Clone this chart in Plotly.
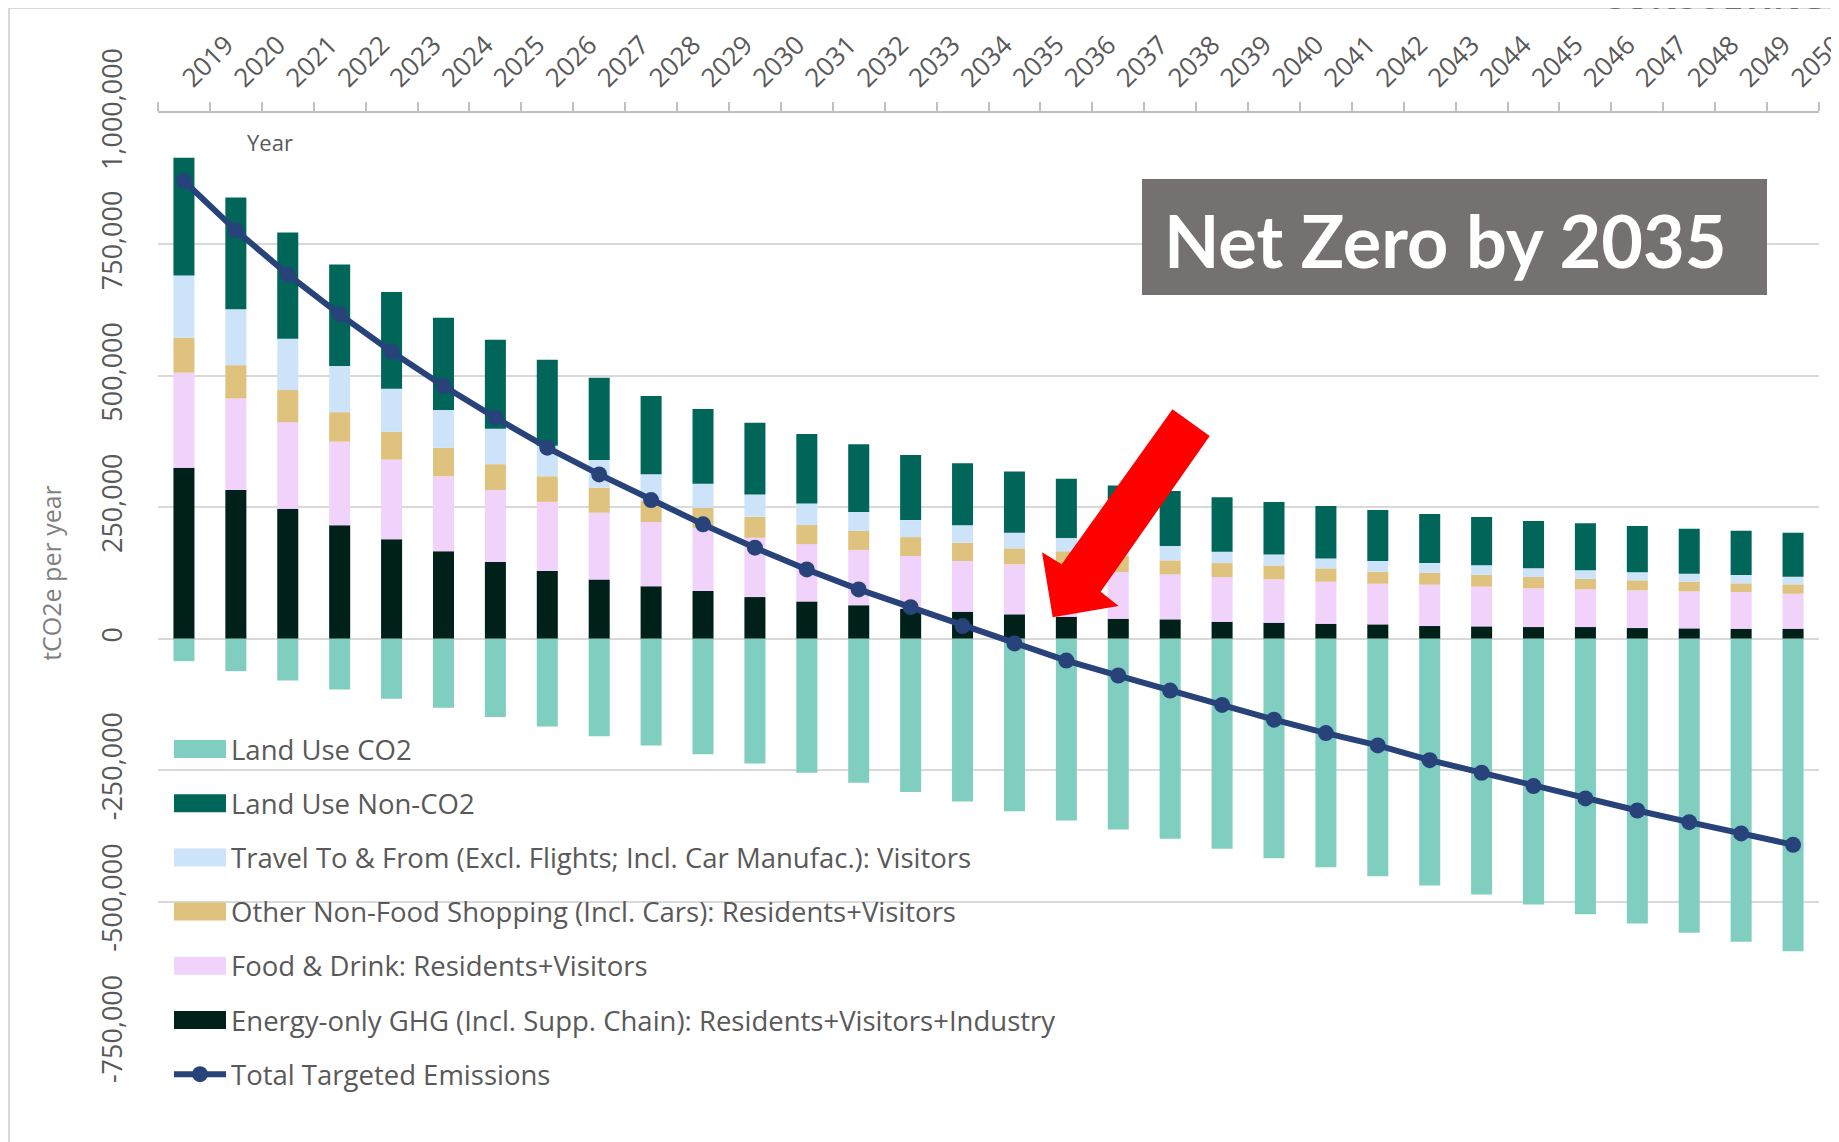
import plotly.graph_objects as go

# ---------------- data (tCO2e per year) ----------------
years = ["2019", "2020", "2021", "2022", "2023", "2024", "2025", "2026", "2027", "2028",
         "2029", "2030", "2031", "2032", "2033", "2034", "2035", "2036", "2037", "2038",
         "2039", "2040", "2041", "2042", "2043", "2044", "2045", "2046", "2047", "2048",
         "2049", "2050"]

energy_ghg = [325000, 283000, 247000, 216000, 189000, 166500, 145800, 128600, 112800, 100000,
              90600, 79200, 71000, 63700, 57000, 51400, 46300, 41900, 38000, 36800,
              32300, 30400, 28500, 27300, 24100, 23500, 22200, 22200, 20300, 19700,
              19000, 19000]

food_drink = [181000, 174000, 165000, 158800, 151600, 142500, 137200, 131700, 126900, 121900,
              120400, 112800, 109000, 105200, 100200, 96400, 95100, 96000, 88800, 85600,
              85000, 82400, 79900, 77400, 78600, 75500, 73600, 71700, 71700, 70400,
              69800, 66600]

other_shopping = [66700, 63400, 61000, 56200, 53200, 54000, 49000, 48700, 47600, 41000,
                  38000, 40000, 36200, 36100, 36100, 34900, 30400, 28500, 30400, 26600,
                  26600, 26600, 25400, 22800, 22800, 22800, 21600, 19700, 19000, 18400,
                  16500, 17800]

travel_visitors = [118300, 106500, 97800, 87700, 81800, 72000, 67500, 58000, 52500, 50000,
                   46000, 42500, 41200, 36200, 32300, 33000, 29800, 25400, 25400, 27300,
                   21600, 20900, 19000, 20300, 18400, 17800, 16500, 16500, 15200, 15200,
                   15900, 14600]

land_use_non_co2 = [224000, 212500, 201700, 193300, 183800, 175700, 169000, 163500, 156800, 149000,
                    142000, 136400, 131900, 128800, 123700, 118000, 116700, 112300, 109000, 104600,
                    103400, 99600, 99600, 97000, 93200, 92000, 90000, 89400, 88200, 85600,
                    84300, 83700]

land_use_co2 = [-42600, -61600, -79300, -96500, -114000, -131300, -149000, -166900, -185300, -203000,
                -220000, -237200, -255000, -274000, -291800, -309600, -328000, -345700, -362800, -380500,
                -399500, -417400, -434500, -451600, -469400, -486500, -505500, -524000, -541700, -559400,
                -576500, -594400]

total_targeted = [870600, 776800, 693000, 617000, 546000, 480600, 420500, 363400, 312600, 263700,
                  217500, 173100, 131800, 93800, 60000, 24000, -9000, -41600, -70000, -98700,
                  -126000, -154000, -179500, -203000, -231000, -255000, -280400, -303800, -326700, -348900,
                  -370400, -392000]

y_tick_values = [-750000, -500000, -250000, 0, 250000, 500000, 750000, 1000000]
y_tick_labels = ["-750,000", "-500,000", "-250,000", "0", "250,000", "500,000", "750,000", "1,000,000"]

series_names = {
    "lu_co2": "Land Use CO2",
    "lu_non": "Land Use Non-CO2",
    "travel": "Travel To & From (Excl. Flights; Incl. Car Manufac.): Visitors",
    "shop": "Other Non-Food Shopping (Incl. Cars): Residents+Visitors",
    "food": "Food & Drink: Residents+Visitors",
    "energy": "Energy-only GHG (Incl. Supp. Chain): Residents+Visitors+Industry",
    "total": "Total Targeted Emissions",
}
colors = {
    "lu_co2": "#80CEC0",
    "lu_non": "#00665A",
    "travel": "#CCE3FA",
    "shop": "#DFC27D",
    "food": "#F0D2FB",
    "energy": "#00201A",
    "total": "#27437A",
}

# ---------------- layout geometry (page pixels; page body has an 8px margin) ----------------
OFF = 8
PAGE_W, PAGE_H = 1839, 1142
W, H = PAGE_W - OFF, PAGE_H - OFF
L, R, T, B = 158, 1819, 113, 1033   # plot area in page pixels


def px(x):
    return (x - L) / (R - L)


def py(y):
    return (B - y) / (B - T)


TXT = "#595959"
FONT = "Open Sans"

fig = go.Figure()

stack = [("energy", energy_ghg), ("food", food_drink), ("shop", other_shopping),
         ("travel", travel_visitors), ("lu_non", land_use_non_co2), ("lu_co2", land_use_co2)]
for key, vals in stack:
    fig.add_trace(go.Bar(x=years, y=vals, name=series_names[key],
                         marker=dict(color=colors[key], line=dict(width=0)),
                         showlegend=False))

fig.add_trace(go.Scatter(x=years, y=total_targeted, name=series_names["total"],
                         mode="lines+markers",
                         line=dict(color=colors["total"], width=6),
                         marker=dict(color=colors["total"], size=16),
                         showlegend=False))

shapes = []
annotations = []

# frame of the panel
shapes.append(dict(type="line", xref="paper", yref="paper", x0=px(9), x1=px(PAGE_W + 5), y0=py(8), y1=py(8),
                   line=dict(color="#D9D9D9", width=2)))
shapes.append(dict(type="line", xref="paper", yref="paper", x0=px(9), x1=px(9), y0=py(8), y1=py(PAGE_H + 5),
                   line=dict(color="#D9D9D9", width=2)))

# custom legend
legend_order = ["lu_co2", "lu_non", "travel", "shop", "food", "energy"]
leg_y0, leg_dy = 749, 54.2
for i, key in enumerate(legend_order):
    yc = leg_y0 + i * leg_dy
    shapes.append(dict(type="rect", xref="paper", yref="paper",
                       x0=px(174), x1=px(226), y0=py(yc + 9), y1=py(yc - 9),
                       fillcolor=colors[key], line=dict(width=0), layer="above"))
    annotations.append(dict(xref="paper", yref="paper", x=px(229), y=py(yc), xanchor="left", yanchor="middle",
                            text=series_names[key], showarrow=False,
                            font=dict(family=FONT, size=27.5, color=TXT)))
yc = leg_y0 + 6 * leg_dy
shapes.append(dict(type="line", xref="paper", yref="paper", x0=px(174), x1=px(226), y0=py(yc), y1=py(yc),
                   line=dict(color=colors["total"], width=6), layer="above"))
shapes.append(dict(type="circle", xref="paper", yref="paper", x0=px(192), x1=px(208), y0=py(yc + 8), y1=py(yc - 8),
                   fillcolor=colors["total"], line=dict(width=0), layer="above"))
annotations.append(dict(xref="paper", yref="paper", x=px(229), y=py(yc), xanchor="left", yanchor="middle",
                        text=series_names["total"], showarrow=False,
                        font=dict(family=FONT, size=27.5, color=TXT)))

# "Year" label
annotations.append(dict(xref="paper", yref="paper", x=px(270), y=py(142), xanchor="center", yanchor="middle",
                        text="Year", showarrow=False, font=dict(family=FONT, size=22, color=TXT)))

# Net Zero box
shapes.append(dict(type="rect", xref="paper", yref="paper", x0=px(1142), x1=px(1767), y0=py(295), y1=py(179),
                   fillcolor="#767171", line=dict(width=0), layer="above"))
annotations.append(dict(xref="paper", yref="paper", x=px(1445), y=py(240), xanchor="center", yanchor="middle",
                        text="<b>Net Zero by 2035</b>", showarrow=False,
                        font=dict(family="Lato", size=72, color="white")))

# red arrow
arrow_pts = [(1172.5, 409.3), (1061.7, 564.3), (1042, 552.3), (1052.7, 617.3),
             (1118.6, 606), (1100.7, 591.7), (1209.7, 436)]
path = "M " + " L ".join(f"{px(x):.5f},{py(y):.5f}" for x, y in arrow_pts) + " Z"
shapes.append(dict(type="path", xref="paper", yref="paper", path=path,
                   fillcolor="#FF0000", line=dict(width=0), layer="above"))

# cut-off header text at the top right
annotations.append(dict(xref="paper", yref="paper", x=px(1600), y=py(21), xanchor="left", yanchor="bottom",
                        text="<b>CONSULTING</b>", showarrow=False,
                        font=dict(family=FONT, size=34, color="#6E6E6E")))

fig.update_layout(
    width=W, height=H,
    margin=dict(l=L - OFF, r=PAGE_W - R, t=T - OFF, b=PAGE_H - B, autoexpand=False),
    barmode="relative",
    bargap=0.595,
    plot_bgcolor="white",
    paper_bgcolor="white",
    font=dict(family=FONT, color=TXT),
    shapes=shapes,
    annotations=annotations,
    showlegend=False,
)

fig.update_xaxes(
    type="category", side="top", range=[-0.5, len(years) - 0.5],
    showline=True, linecolor="#BFBFBF", linewidth=2,
    ticks="outside", tickson="boundaries", ticklen=9, tickcolor="#BFBFBF", tickwidth=1.5,
    tickangle=-45, tickfont=dict(family=FONT, size=26, color=TXT),
    ticklabelstandoff=8,
    showgrid=False, automargin=False,
)
fig.update_yaxes(
    range=[-750000, 1000000],
    tickvals=y_tick_values, ticktext=y_tick_labels,
    tickangle=-90, tickfont=dict(family=FONT, size=27, color=TXT),
    ticklabelstandoff=30,
    showgrid=True, gridcolor="#D9D9D9", gridwidth=2,
    zeroline=False, showline=False, automargin=False,
    title=dict(text="tCO2e per year", font=dict(family=FONT, size=25, color="#7F7F7F"), standoff=23),
)

fig.write_html("out.html")
